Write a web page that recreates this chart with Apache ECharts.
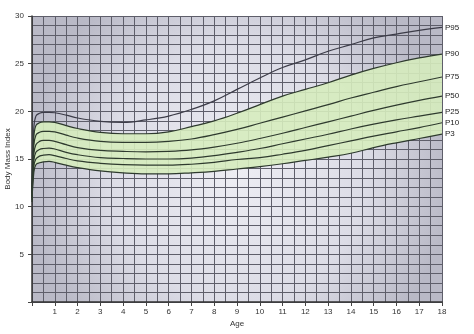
<!DOCTYPE html>
<html>
<head>
<meta charset="utf-8">
<script src="https://cdn.jsdelivr.net/npm/echarts@6/dist/echarts.min.js"></script>
<style>html,body{margin:0;padding:0;background:#fff;}#c{width:474px;height:334px;}</style>
</head>
<body>
<div id="c"></div>
<script>
var ages = [0, 0.08, 0.17, 0.33, 0.5, 0.75, 1, 1.5, 2, 3, 4, 5, 6, 7, 8, 9, 10, 11, 12, 13, 14, 15, 16, 17, 18];
var p95 = [12.0, 18.3, 19.5, 19.8, 19.9, 19.9, 19.85, 19.6, 19.3, 18.95, 18.85, 19.1, 19.5, 20.2, 21.1, 22.3, 23.5, 24.6, 25.4, 26.3, 27.0, 27.7, 28.1, 28.5, 28.8];
var p90 = [11.7, 17.3, 18.5, 18.8, 18.9, 18.9, 18.85, 18.5, 18.2, 17.8, 17.65, 17.65, 17.85, 18.4, 19.0, 19.8, 20.7, 21.6, 22.3, 23.0, 23.8, 24.5, 25.1, 25.6, 26.0];
var p75 = [11.4, 16.4, 17.5, 17.8, 17.9, 17.9, 17.85, 17.5, 17.2, 16.85, 16.75, 16.75, 16.85, 17.1, 17.55, 18.1, 18.75, 19.4, 20.05, 20.7, 21.4, 22.0, 22.6, 23.1, 23.6];
var p50 = [11.1, 15.5, 16.5, 16.85, 16.95, 16.95, 16.85, 16.5, 16.2, 15.9, 15.8, 15.75, 15.8, 15.95, 16.25, 16.65, 17.15, 17.7, 18.3, 18.9, 19.5, 20.1, 20.65, 21.15, 21.6];
var p25 = [10.9, 14.8, 15.7, 16.0, 16.1, 16.15, 16.05, 15.7, 15.45, 15.15, 15.05, 15.0, 15.0, 15.1, 15.35, 15.7, 16.1, 16.6, 17.1, 17.6, 18.15, 18.65, 19.1, 19.5, 19.9];
var p10 = [10.7, 14.2, 15.0, 15.3, 15.4, 15.45, 15.35, 15.05, 14.8, 14.55, 14.4, 14.35, 14.35, 14.45, 14.65, 14.95, 15.15, 15.5, 15.9, 16.4, 16.9, 17.4, 17.85, 18.3, 18.8];
var p3 = [10.5, 13.6, 14.4, 14.6, 14.7, 14.75, 14.65, 14.35, 14.1, 13.75, 13.55, 13.45, 13.45, 13.55, 13.7, 13.95, 14.2, 14.5, 14.85, 15.2, 15.6, 16.2, 16.7, 17.15, 17.6];
var seriesNames = ['P95', 'P90', 'P75', 'P50', 'P25', 'P10', 'P3'];
var seriesValues = [p95, p90, p75, p50, p25, p10, p3];
var xLabelsHidden = [0];
var yLabelsHidden = [0];

function pairs(vals) { return ages.map(function (a, i) { return [a, vals[i]]; }); }
// value first so that stacking happens on the y (value) dimension
function pairsVY(vals) { return ages.map(function (a, i) { return [vals[i], a]; }); }

var SMOOTH = 0.4;
var FONT = 'Liberation Sans, Arial, sans-serif';
var series = [];
// green band between P3 and P90
series.push({
  name: 'bandBase', type: 'line', stack: 'band', data: pairsVY(p3),
  encode: { x: 1, y: 0 },
  smooth: SMOOTH, symbol: 'none', silent: true,
  lineStyle: { width: 0, opacity: 0 }, z: 1
});
series.push({
  name: 'bandTop', type: 'line', stack: 'band',
  data: pairsVY(p90.map(function (v, i) { return +(v - p3[i]).toFixed(3); })),
  encode: { x: 1, y: 0 },
  smooth: SMOOTH, symbol: 'none', silent: true,
  lineStyle: { width: 0, opacity: 0 },
  areaStyle: { color: 'rgba(214,236,190,0.9)', opacity: 1 }, z: 1
});
seriesNames.forEach(function (n, k) {
  series.push({
    name: n, type: 'line', data: pairs(seriesValues[k]),
    smooth: SMOOTH, symbol: 'none', z: 3,
    lineStyle: { color: k === 0 ? '#3c3c48' : '#2e3a2e', width: 1.2 },
    endLabel: { show: true, formatter: '{a}', color: '#222', fontSize: 8, distance: 3, fontFamily: FONT }
  });
});

var chart = echarts.init(document.getElementById('c'), null, { renderer: 'canvas' });
chart.setOption({
  animation: false,
  grid: {
    left: 32, right: 32, top: 16, bottom: 32, show: true, borderWidth: 0,
    containLabel: false, outerBoundsMode: 'none',
    backgroundColor: new echarts.graphic.RadialGradient(0.5, 0.55, 0.75, [
      { offset: 0, color: '#ededf3' },
      { offset: 0.6, color: '#dcdce6' },
      { offset: 1, color: '#b9b9c6' }
    ])
  },
  xAxis: {
    type: 'value', min: 0, max: 18, interval: 1,
    name: 'Age', nameLocation: 'middle', nameGap: 18, nameMoveOverlap: false,
    nameTextStyle: { fontSize: 8, color: '#333', fontFamily: FONT },
    axisLine: { show: true, lineStyle: { color: '#333', width: 1.5 } },
    axisTick: { show: true, length: 4, lineStyle: { color: '#444' } },
    axisLabel: { fontSize: 8, color: '#333', margin: 6, fontFamily: FONT,
      formatter: function (v) { return xLabelsHidden.indexOf(v) >= 0 ? '' : String(v); } },
    splitLine: { show: true, lineStyle: { color: '#5e5e6a', width: 1 } },
    minorTick: { show: false, splitNumber: 2 },
    minorSplitLine: { show: true, lineStyle: { color: '#5e5e6a', width: 1 } }
  },
  yAxis: {
    type: 'value', min: 0, max: 30, interval: 5,
    name: 'Body Mass Index', nameLocation: 'middle', nameGap: 20, nameRotate: 90, nameMoveOverlap: false,
    nameTextStyle: { fontSize: 8, color: '#333', fontFamily: FONT },
    axisLine: { show: true, lineStyle: { color: '#333', width: 1.5 } },
    axisTick: { show: true, length: 4, lineStyle: { color: '#444' } },
    axisLabel: { fontSize: 8, color: '#333', margin: 8, fontFamily: FONT,
      formatter: function (v) { return yLabelsHidden.indexOf(v) >= 0 ? '' : String(v); } },
    splitLine: { show: true, lineStyle: { color: '#5e5e6a', width: 1 } },
    minorTick: { show: false, splitNumber: 5 },
    minorSplitLine: { show: true, lineStyle: { color: '#5e5e6a', width: 1 } }
  },
  series: series
});
</script>
</body>
</html>
